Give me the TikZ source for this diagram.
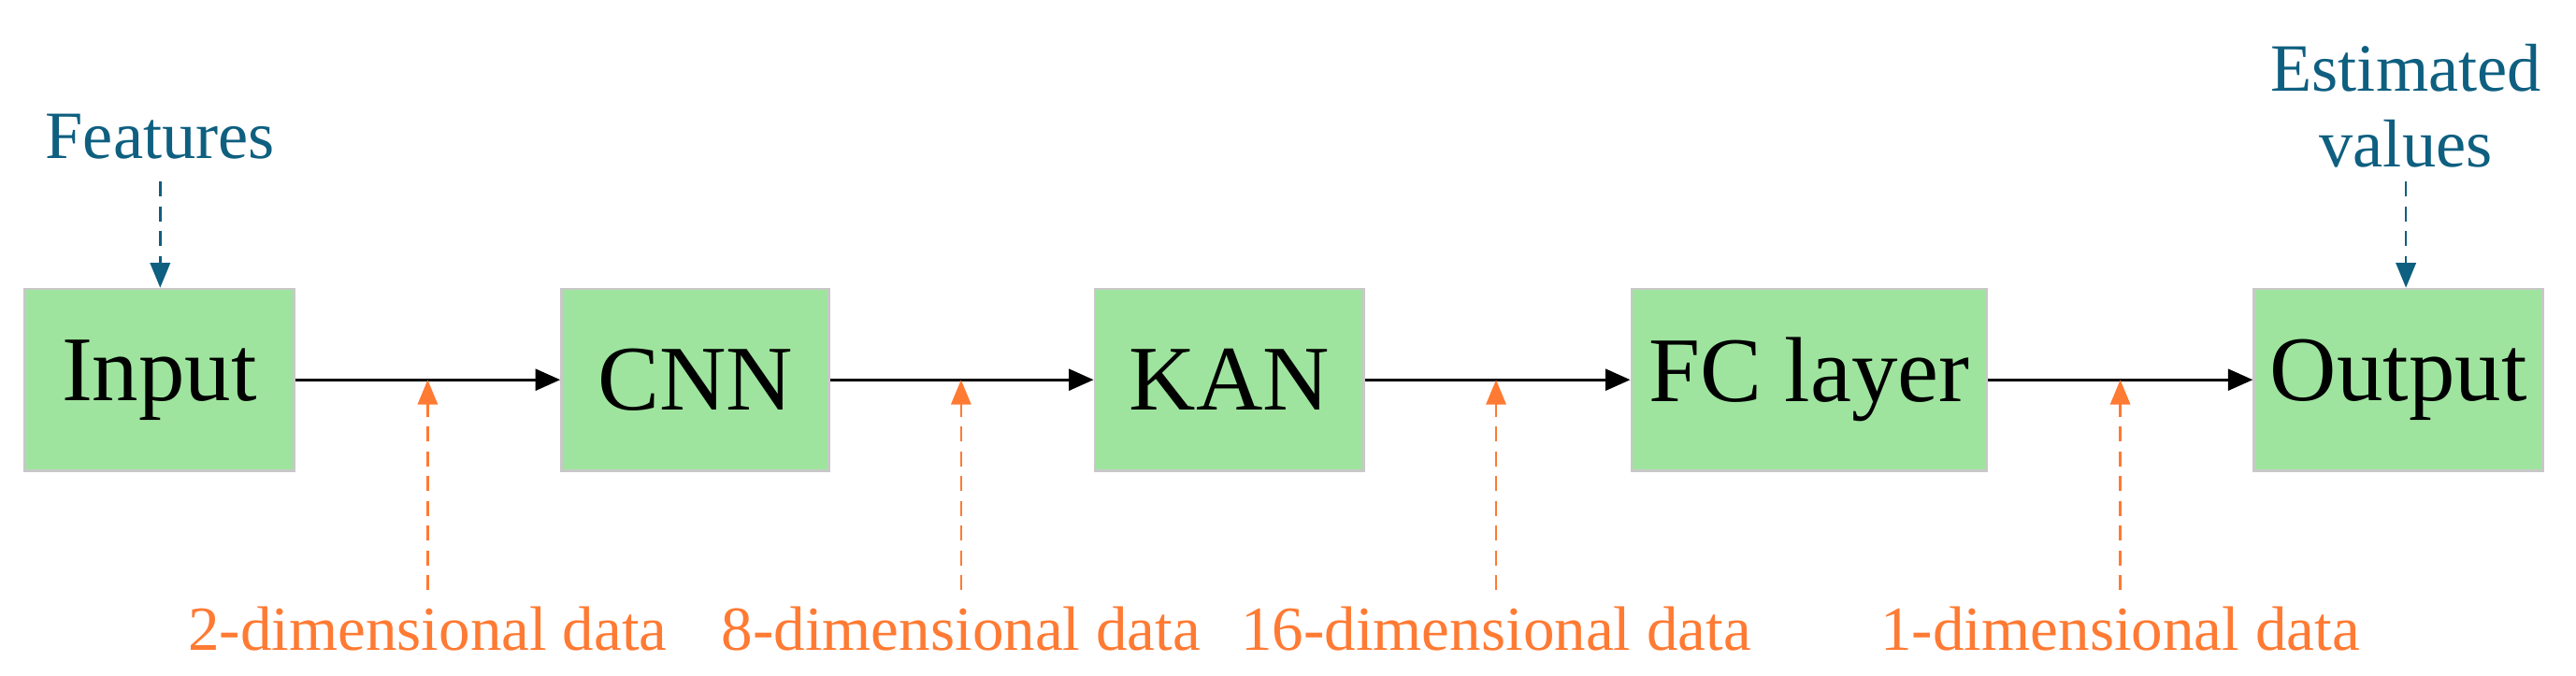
\documentclass[tikz,border=0pt]{standalone}
\usepackage{fontspec}
\setmainfont{Liberation Serif}
\usetikzlibrary{arrows.meta,positioning}
\definecolor{boxgreen}{HTML}{9EE49E}
\definecolor{boxgray}{HTML}{C8C8C8}
\definecolor{featblue}{HTML}{0E5F80}
\definecolor{dimorange}{HTML}{FF7A33}
\begin{document}
\begin{tikzpicture}[x=1pt,y=-1pt,
    block_main/.style ={rectangle, draw=boxgray, line width=1.5pt, fill=boxgreen, minimum height=110pt, font=\fontsize{56}{60}\selectfont},
    label_dim/.style ={text=dimorange, font=\fontsize{38}{40}\selectfont, inner sep=0pt},
    label_io/.style ={text=featblue, font=\fontsize{41}{46}\selectfont, align=center, inner sep=0pt},
    line/.style ={draw, line width=1.5pt, -{Triangle[length=15pt,width=13pt]}},
    line_dim/.style ={draw=dimorange, line width=1.5pt, dash pattern=on 9pt off 6pt, -{Triangle[length=15pt,width=12pt]}},
    line_io/.style ={draw=featblue, line width=1.5pt, dash pattern=on 9pt off 6pt, -{Triangle[length=15pt,width=12pt]}}]
    \useasboundingbox (0,0) rectangle (1560,409);
    % blocks
    \node [block_main, minimum width=163pt] (input) at (96.5,230) {Input};
    \node [block_main, minimum width=162pt] (cnn) at (421,230) {CNN};
    \node [block_main, minimum width=163pt] (kan) at (744.5,230) {KAN};
    \node [block_main, minimum width=215pt] (fc) at (1095.5,230) {FC layer};
    \node [block_main, minimum width=175pt] (output) at (1452.5,230) {Output};
    % inputs and outputs
    \node [label_io] (features) at (97,83) {Features};
    \node [label_io] (estimated) at (1457,64) {Estimated\\values};
    % dimension labels
    \node [label_dim] (dim2) at (259,381) {2-dimensional data};
    \node [label_dim] (dim8) at (582,381) {8-dimensional data};
    \node [label_dim] (dim16) at (906,381) {16-dimensional data};
    \node [label_dim] (dim1) at (1284,381) {1-dimensional data};
    % connecting nodes with paths
    \path [line] (input) -- (cnn);
    \path [line] (cnn) -- (kan);
    \path [line] (kan) -- (fc);
    \path [line] (fc) -- (output);
    \path [line_io] (features.south |- 0,110) -- (features.south |- input.north);
    \path [line_io] (estimated.south |- 0,110) -- (estimated.south |- output.north);
    \path [line_dim] (dim2.north) ++(0,-10) -- (dim2.north |- input.east);
    \path [line_dim] (dim8.north) ++(0,-10) -- (dim8.north |- input.east);
    \path [line_dim] (dim16.north) ++(0,-10) -- (dim16.north |- input.east);
    \path [line_dim] (dim1.north) ++(0,-10) -- (dim1.north |- input.east);
\end{tikzpicture}
\end{document}
